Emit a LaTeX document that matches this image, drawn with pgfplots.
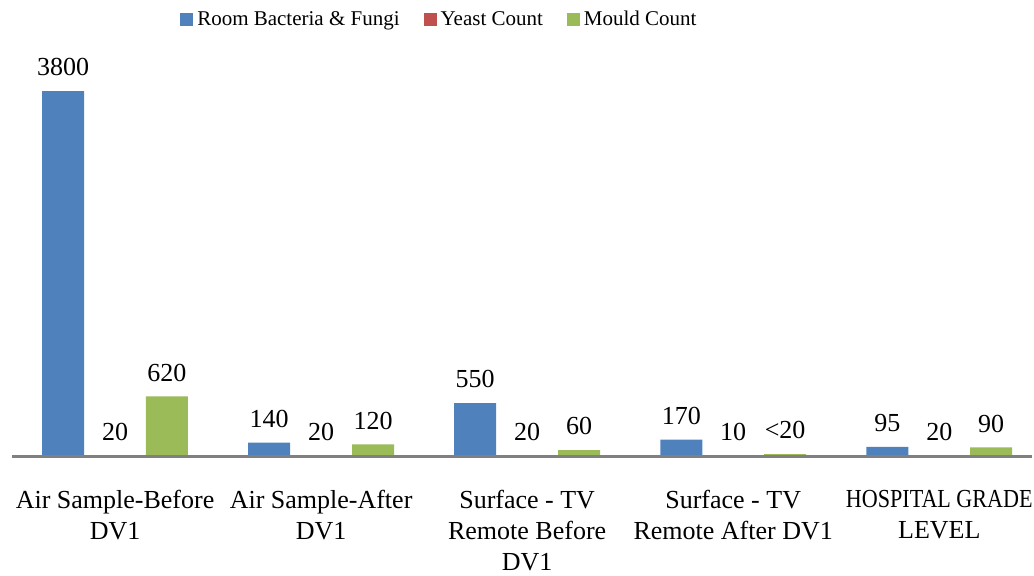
\documentclass[border=0pt]{standalone}
\usepackage{pgfplots}
\usepackage{pgfplotstable}
\pgfplotsset{compat=1.18}
\usepackage{fontspec}
\setmainfont{Liberation Serif}
\definecolor{cblue}{HTML}{4F81BD}
\definecolor{cred}{HTML}{C0504D}
\definecolor{cgreen}{HTML}{9BBB59}

\pgfplotstableread{
x y lab
0 3800 3800
1 140 140
2 550 550
3 170 170
4 95 95
}\bact
% yeast bars do not show in the source chart: plotted at 0, labelled with the counts
\pgfplotstableread{
x y lab
0 0 20
1 0 20
2 0 20
3 0 10
4 0 20
}\yeast
\pgfplotstableread{
x y lab
0 620 620
1 120 120
2 60 60
3 20 <20
4 90 90
}\mould

\begin{document}
\begin{tikzpicture}
\useasboundingbox (0,0) rectangle (517pt,287.5pt);
\begin{axis}[
  at={(6pt,59.5pt)}, anchor=south west,
  scale only axis, width=510pt, height=206.5pt,
  ymin=0, ymax=4300, xmin=-0.5, xmax=4.45,
  axis y line=none, axis x line=bottom,
  x axis line style={-, draw=gray, line width=1.5pt},
  axis on top,
  xtick={0,1,2,3,4}, major tick length=0pt,
  xticklabels={{Air Sample-Before\\DV1},{Air Sample-After\\DV1},{Surface - TV\\Remote Before\\DV1},{Surface - TV\\Remote After DV1},{\scalebox{0.85}[1]{HOSPITAL GRADE}\\LEVEL}},
  xticklabel style={align=center, font=\fontsize{13}{15.5}\selectfont, yshift=-13.5pt},
  nodes near coords, point meta=explicit symbolic,
  every node near coord/.append style={font=\fontsize{13}{15}\selectfont, text=black, yshift=4pt},
  legend columns=-1,
  legend style={draw=none, at={(0.42,1)}, anchor=center, yshift=11.5pt,
    font=\fontsize{10.5}{12}\selectfont,
    /tikz/every even column/.append style={column sep=10pt}},
  legend image code/.code={\fill[#1] (0pt,-3.2pt) rectangle (6.5pt,3.3pt);},
  clip=false,
]
\addplot[ybar, bar width=0.204, fill=cblue, draw=none] table[x expr=\thisrow{x}-0.252,y=y,meta=lab]{\bact};
\addplot[ybar, bar width=0.204, fill=cred, draw=none] table[x=x,y=y,meta=lab]{\yeast};
\addplot[ybar, bar width=0.204, fill=cgreen, draw=none] table[x expr=\thisrow{x}+0.252,y=y,meta=lab]{\mould};
\legend{Room Bacteria \& Fungi, Yeast Count, Mould Count}
\end{axis}
\end{tikzpicture}
\end{document}
